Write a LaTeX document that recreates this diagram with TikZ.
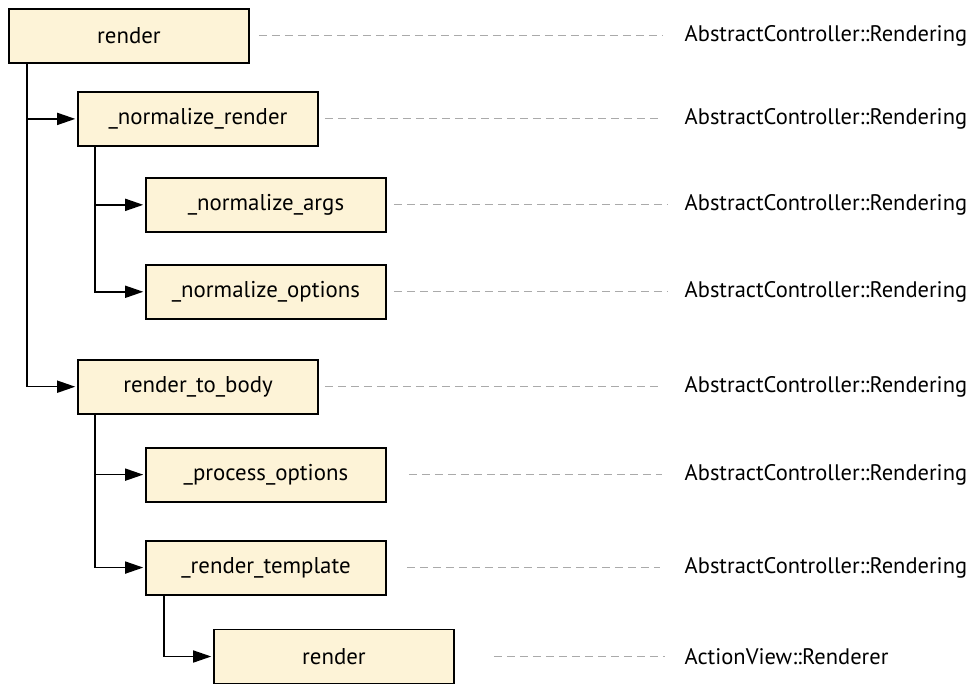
\documentclass[tikz,border=0pt]{standalone}
\usepackage{fontspec}
\setmainfont{PT Sans}
\usetikzlibrary{positioning,arrows.meta}
\definecolor{boxfill}{HTML}{FDF3D7}
\definecolor{guidegray}{HTML}{AAAAAA}
\begin{document}
\begin{tikzpicture}[node distance=0.6cm, thick,
        main/.style = {draw, line width=1.1pt, fill=boxfill, minimum width=4.8cm, minimum height=1.08cm, inner sep=0pt, font=\fontsize{13}{15}\selectfont},
        lbl/.style = {anchor=west, inner sep=0pt, font=\fontsize{12.8}{15}\selectfont},
        link/.style = {line width=0.85pt, -{Triangle[length=0.36cm, width=0.24cm]}, shorten >=1pt},
        guide/.style = {guidegray, line width=0.6pt, dash pattern=on 0.16cm off 0.1cm}]
            \useasboundingbox (0,0) rectangle (19.42,-13.68);
            \coordinate (lx) at (13.68,0);
            \node[main, anchor=north west] (1) at (0.16,-0.16) {render};
            \node[main, below=0.54cm of 1, xshift=1.38cm] (2) {\_normalize\_render};
            \node[main, below=0.60cm of 2, xshift=1.36cm] (3) {\_normalize\_args};
            \node[main, below=0.62cm of 3] (4) {\_normalize\_options};
            \node[main, below=0.78cm of 4, xshift=-1.36cm] (5) {render\_to\_body};
            \node[main, below=0.64cm of 5, xshift=1.36cm] (6) {\_process\_options};
            \node[main, below=0.74cm of 6] (7) {\_render\_template};
            \node[main, below=0.66cm of 7, xshift=1.36cm] (8) {render};
            \node[lbl] (c1) at (1 -| lx) {AbstractController::Rendering};
            \node[lbl] (c2) at (2 -| lx) {AbstractController::Rendering};
            \node[lbl] (c3) at (3 -| lx) {AbstractController::Rendering};
            \node[lbl] (c4) at (4 -| lx) {AbstractController::Rendering};
            \node[lbl] (c5) at (5 -| lx) {AbstractController::Rendering};
            \node[lbl] (c6) at (6 -| lx) {AbstractController::Rendering};
            \node[lbl] (c7) at (7 -| lx) {AbstractController::Rendering};
            \node[lbl] (c8) at (8 -| lx) {ActionView::Renderer};
            \draw[link] ([xshift=0.38cm]1.south west) |- (2);
            \draw[link] ([xshift=0.38cm]1.south west) |- (5);
            \draw[link] ([xshift=0.36cm]2.south west) |- (3);
            \draw[link] ([xshift=0.36cm]2.south west) |- (4);
            \draw[link] ([xshift=0.36cm]5.south west) |- (6);
            \draw[link] ([xshift=0.36cm]5.south west) |- (7);
            \draw[link] ([xshift=0.38cm]7.south west) |- (8);
            \draw[guide, shorten <=0.18cm, shorten >=0.44cm] (1) -- (c1);
            \draw[guide, shorten <=0.12cm, shorten >=0.44cm] (2) -- (c2);
            \draw[guide, shorten <=0.14cm, shorten >=0.34cm] (3) -- (c3);
            \draw[guide, shorten <=0.14cm, shorten >=0.34cm] (4) -- (c4);
            \draw[guide, shorten <=0.12cm, shorten >=0.44cm] (5) -- (c5);
            \draw[guide, shorten <=0.44cm, shorten >=0.44cm] (6) -- (c6);
            \draw[guide, shorten <=0.40cm, shorten >=0.48cm] (7) -- (c7);
            \draw[guide, shorten <=0.78cm, shorten >=0.38cm] (8) -- (c8);
        \end{tikzpicture}
\end{document}
